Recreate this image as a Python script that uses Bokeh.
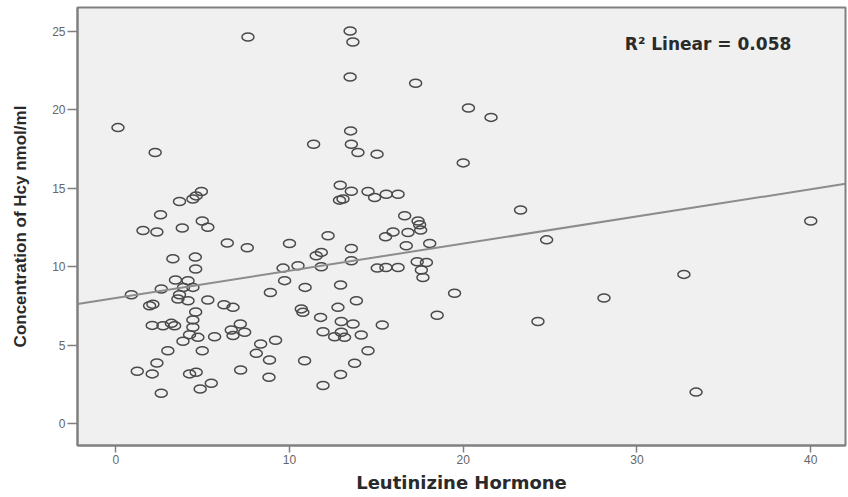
from bokeh.plotting import figure
from bokeh.models import Range1d, ColumnDataSource, Label, FixedTicker
from bokeh.embed import file_html
from bokeh.resources import INLINE

# Leutinizine Hormone (x) and Concentration of Hcy nmol/ml (y)
lh = [0.13, 7.61, 13.49, 13.65, 13.49, 17.26, 2.27, 11.39, 13.52, 13.56, 13.94, 15.04,
      20.3, 21.6, 20.0, 23.3, 24.8, 40.0, 32.7, 28.1, 24.3, 33.4, 19.5, 18.5,
      4.93, 4.63, 4.44, 3.67, 2.58, 1.57, 2.37, 3.83, 4.98, 5.3, 6.42, 7.57,
      3.29, 4.58, 4.6, 3.44, 4.16, 4.44, 3.9, 3.67, 2.62, 0.9, 3.58, 4.16,
      2.14, 1.95, 5.3, 6.23, 6.75, 8.9, 4.6, 4.44, 2.1, 2.72, 3.2, 3.39,
      4.44, 7.17, 6.65, 7.42, 6.75, 4.25, 4.73, 3.87, 5.69, 3.0, 4.98, 8.34,
      8.09, 8.85, 2.37, 1.24, 2.1, 4.25, 4.63, 7.19, 5.5, 4.86, 2.62, 8.82,
      9.2, 9.72, 9.63, 10.49, 10.9, 10.68, 10.77, 10.87, 11.54, 11.83, 11.83, 11.79,
      11.93, 11.93, 12.79, 12.94, 13.85, 12.98, 13.66, 12.6, 12.98, 13.17, 14.13, 15.34,
      14.52, 13.75, 12.94, 13.56, 15.05, 15.55, 16.25, 17.35, 17.88, 17.59, 17.68,
      12.92, 13.56, 12.88, 13.08, 14.52, 14.9, 15.57, 16.25, 16.63, 17.4, 17.49, 17.55,
      16.82, 15.96, 15.53, 18.07, 16.72, 13.56, 12.22, 10.0]
hcy = [18.85, 24.62, 25.0, 24.3, 22.07, 21.67, 17.26, 17.79, 18.64, 17.79, 17.26, 17.16,
       20.1, 19.5, 16.6, 13.6, 11.7, 12.9, 9.5, 8.0, 6.5, 2.0, 8.3, 6.9,
       14.78, 14.5, 14.3, 14.14, 13.3, 12.3, 12.2, 12.45, 12.9, 12.5, 11.5, 11.2,
       10.5, 10.6, 9.84, 9.14, 9.1, 8.67, 8.67, 8.2, 8.57, 8.2, 7.93, 7.82,
       7.6, 7.5, 7.87, 7.57, 7.4, 8.35, 7.1, 6.6, 6.25, 6.23, 6.38, 6.23,
       6.13, 6.34, 5.96, 5.81, 5.6, 5.66, 5.49, 5.24, 5.53, 4.64, 4.64, 5.07,
       4.47, 4.05, 3.86, 3.33, 3.16, 3.16, 3.27, 3.41, 2.57, 2.2, 1.93, 2.95,
       5.3, 9.1, 9.9, 10.05, 8.67, 7.3, 7.08, 4.0, 10.69, 10.9, 9.99, 6.76,
       5.85, 2.42, 7.4, 8.82, 7.82, 6.5, 6.34, 5.53, 5.81, 5.49, 5.64, 6.28,
       4.64, 3.84, 3.12, 10.37, 9.9, 9.94, 9.94, 10.3, 10.26, 9.78, 9.3,
       15.18, 14.8, 14.23, 14.3, 14.78, 14.4, 14.6, 14.6, 13.23, 12.9, 12.66, 12.32,
       12.17, 12.2, 11.9, 11.47, 11.32, 11.15, 11.96, 11.47]

x_ticks = [0, 10, 20, 30, 40]
y_ticks = [0, 5, 10, 15, 20, 25]

fit_intercept = 8.0
fit_slope = 0.173
r2_text = "R\u00b2 Linear = 0.058"
x_title = "Leutinizine Hormone"
y_title = "Concentration of Hcy nmol/ml"

x_lo, x_hi = -2.2, 42.0
y_lo, y_hi = -1.4, 26.5

p = figure(width=848, height=497, output_backend="svg", toolbar_location=None,
           x_range=Range1d(x_lo, x_hi), y_range=Range1d(y_lo, y_hi),
           min_border_left=77, min_border_right=3, min_border_top=7, min_border_bottom=52)
p.background_fill_color = "#f0f0f0"
p.border_fill_color = "white"
p.outline_line_color = "#808080"
p.outline_line_width = 2
p.xgrid.visible = False
p.ygrid.visible = False

src = ColumnDataSource(dict(x=lh, y=hcy))
p.ellipse(x="x", y="y", width=12, height=8, width_units="screen", height_units="screen",
          fill_color=None, line_color="#4a4a4a", line_width=1.5, source=src)

fx = [x_lo, x_hi]
fy = [fit_intercept + fit_slope * v for v in fx]
p.line(fx, fy, line_color="#8c8c8c", line_width=2)

for ax in (p.xaxis[0], p.yaxis[0]):
    ax.axis_line_color = "#808080"
    ax.axis_line_width = 2
    ax.major_tick_line_color = "#808080"
    ax.major_tick_line_width = 1.5
    ax.major_tick_in = 0
    ax.minor_tick_line_color = None
    ax.major_label_text_color = "#666666"
    ax.major_label_text_font = "Liberation Sans"
    ax.major_label_text_font_size = "12px"
    ax.axis_label_text_color = "#2a2a2a"
    ax.axis_label_text_font_style = "bold"

p.xaxis.ticker = FixedTicker(ticks=x_ticks)
p.yaxis.ticker = FixedTicker(ticks=y_ticks)
p.xaxis.major_tick_out = 7
p.yaxis.major_tick_out = 10
p.xaxis.major_label_standoff = 2
p.yaxis.major_label_standoff = 2

p.xaxis.axis_label = x_title
p.xaxis.axis_label_text_font = "DejaVu Sans"
p.xaxis.axis_label_text_font_size = "18px"
p.xaxis.axis_label_standoff = 5

p.yaxis.axis_label = y_title
p.yaxis.axis_label_text_font = "Liberation Sans"
p.yaxis.axis_label_text_font_size = "17px"
p.yaxis.axis_label_standoff = 19

lbl = Label(x=29.3, y=24.2, text=r2_text, text_font="DejaVu Sans", text_font_style="bold",
            text_font_size="17px", text_color="#2a2a2a", text_baseline="middle", text_align="left")
p.add_layout(lbl)

open("out.html", "w").write(file_html(p, INLINE))
